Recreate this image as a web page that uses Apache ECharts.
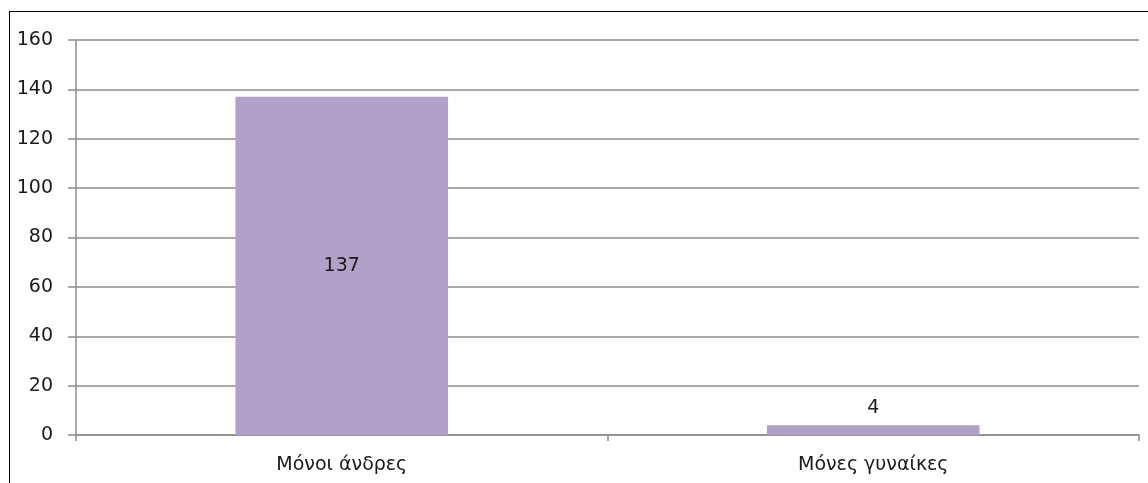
<!DOCTYPE html>
<html>
<head>
<meta charset="utf-8">
<script src="https://cdn.jsdelivr.net/npm/echarts@6/dist/echarts.min.js"></script>
<style>
html,body{margin:0;padding:0;background:#fff;}
#chart{width:1148px;height:483px;}
#frame{position:absolute;left:9px;top:11px;width:1139px;height:472px;border-left:1.5px solid #000;border-top:1.5px solid #000;pointer-events:none;}
</style>
</head>
<body>
<div id="chart"></div>
<div id="frame"></div>
<script>
const categories = ['Μόνοι άνδρες', 'Μόνες γυναίκες'];
const values = [137, 4];
const labelPositions = ['inside', 'top'];

const chart = echarts.init(document.getElementById('chart'));
const font = 'DejaVu Sans';
chart.setOption({
  animation: false,
  grid: {left: 76, right: 9, top: 40, bottom: 48},
  xAxis: {
    type: 'category',
    data: categories,
    axisLine: {lineStyle: {color: '#8c8c8c', width: 1.5}},
    axisTick: {show: true, length: 6, lineStyle: {color: '#8c8c8c', width: 1.5}},
    axisLabel: {color: '#1a1a1a', fontFamily: font, fontSize: 19, margin: 21}
  },
  yAxis: {
    type: 'value',
    min: 0, max: 160, interval: 20,
    axisLine: {show: true, lineStyle: {color: '#8c8c8c', width: 1.5}},
    axisTick: {show: true, length: 8, lineStyle: {color: '#8c8c8c', width: 1.5}},
    axisLabel: {color: '#1a1a1a', fontFamily: font, fontSize: 19, margin: 23},
    splitLine: {lineStyle: {color: '#8c8c8c', width: 1.5}}
  },
  series: [{
    type: 'bar',
    barWidth: '40%',
    data: values.map((v, i) => ({
      value: v,
      label: {show: true, position: labelPositions[i], color: '#1a1a1a', fontFamily: font, fontSize: 19, distance: 8}
    })),
    itemStyle: {color: '#B1A0C7'}
  }]
});
</script>
</body>
</html>
